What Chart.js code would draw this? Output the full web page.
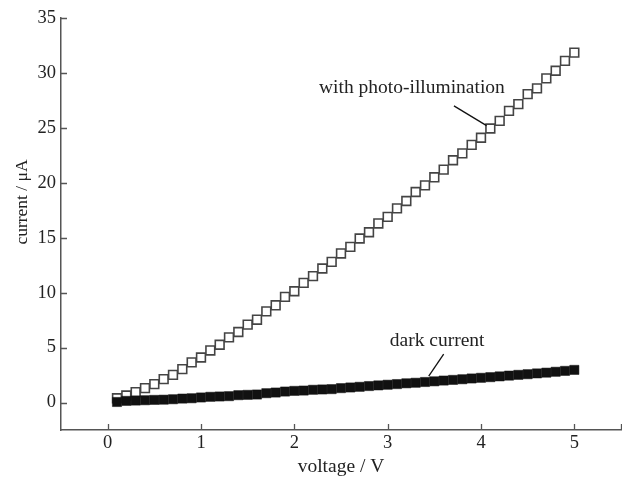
<!DOCTYPE html>
<html>
<head>
<meta charset="utf-8">
<script src="https://cdn.jsdelivr.net/npm/chart.js@4"></script>
<style>
  html, body { margin: 0; padding: 0; background: #fff; }
  #wrap { width: 622px; height: 477px; }
</style>
</head>
<body>
<div id="wrap"><canvas id="chart" width="622" height="477"></canvas></div>
<script>
// voltage (V) for both sweeps
const voltage = [
  0.1, 0.2, 0.3, 0.4, 0.5, 0.6, 0.7, 0.8, 0.9, 1.0,
  1.1, 1.2, 1.3, 1.4, 1.5, 1.6, 1.7, 1.8, 1.9, 2.0,
  2.1, 2.2, 2.3, 2.4, 2.5, 2.6, 2.7, 2.8, 2.9, 3.0,
  3.1, 3.2, 3.3, 3.4, 3.5, 3.6, 3.7, 3.8, 3.9, 4.0,
  4.1, 4.2, 4.3, 4.4, 4.5, 4.6, 4.7, 4.8, 4.9, 5.0
]
// current (uA) under illumination
const photoCurrent = [
  0.39, 0.64, 0.94, 1.31, 1.67, 2.13, 2.52, 3.04, 3.65, 4.10,
  4.74, 5.26, 5.93, 6.42, 7.09, 7.54, 8.30, 8.85, 9.62, 10.13,
  10.89, 11.50, 12.20, 12.80, 13.57, 14.17, 14.93, 15.50, 16.30, 16.90,
  17.67, 18.34, 19.16, 19.77, 20.50, 21.20, 22.05, 22.68, 23.45, 24.10,
  24.94, 25.64, 26.55, 27.16, 28.07, 28.60, 29.50, 30.20, 31.10, 31.85
]
// dark current (uA)
const darkCurrent = [
  0.05, 0.15, 0.18, 0.21, 0.24, 0.26, 0.30, 0.36, 0.39, 0.46,
  0.52, 0.55, 0.58, 0.67, 0.70, 0.73, 0.85, 0.91, 1.00, 1.06,
  1.09, 1.16, 1.19, 1.22, 1.31, 1.37, 1.43, 1.50, 1.56, 1.62,
  1.68, 1.75, 1.80, 1.87, 1.93, 2.00, 2.06, 2.12, 2.19, 2.25,
  2.31, 2.38, 2.45, 2.52, 2.58, 2.65, 2.72, 2.80, 2.88, 2.97
]
const xTicks = [0, 1, 2, 3, 4, 5]
const yTicks = [0, 5, 10, 15, 20, 25, 30, 35]

// callout labels: text anchor and leader line, in data units
const calloutText = ['with photo-illumination', 'dark current']
const calloutAt = [[3.26, 28.6], [3.53, 5.6]]
const leaderFrom = [[3.71, 27.0], [3.60, 4.4]]
const leaderTo = [[4.06, 25.2], [3.44, 2.4]]

const serif = "'Liberation Serif', 'Times New Roman', serif"
const ink = '#222'

const decorations = {
  id: 'decorations',
  afterDraw(chart) {
    const ctx = chart.ctx
    const xs = chart.scales.x
    const ys = chart.scales.y
    const area = chart.chartArea
    ctx.save()
    // inward tick marks
    ctx.strokeStyle = '#555'
    ctx.lineWidth = 1.3
    ctx.beginPath()
    xTicks.concat([xs.max]).forEach(v => {
      const px = Math.round(xs.getPixelForValue(v)) + 0.5
      ctx.moveTo(px, area.bottom)
      ctx.lineTo(px, area.bottom - 6)
    })
    yTicks.forEach(v => {
      const py = Math.round(ys.getPixelForValue(v)) + 0.5
      ctx.moveTo(area.left, py)
      ctx.lineTo(area.left + 6, py)
    })
    ctx.stroke()

    // callouts
    ctx.strokeStyle = '#111'
    ctx.lineWidth = 1.3
    ctx.fillStyle = ink
    ctx.font = '19.5px ' + serif
    ctx.textAlign = 'center'
    ctx.textBaseline = 'middle'
    calloutText.forEach((t, i) => {
      ctx.fillText(t, xs.getPixelForValue(calloutAt[i][0]), ys.getPixelForValue(calloutAt[i][1]))
      ctx.beginPath()
      ctx.moveTo(xs.getPixelForValue(leaderFrom[i][0]), ys.getPixelForValue(leaderFrom[i][1]))
      ctx.lineTo(xs.getPixelForValue(leaderTo[i][0]), ys.getPixelForValue(leaderTo[i][1]))
      ctx.stroke()
    })

    // y axis title
    ctx.font = '17.5px ' + serif
    ctx.translate(22, (area.top + area.bottom) / 2 - 22)
    ctx.rotate(-Math.PI / 2)
    ctx.fillText('current / \u03bcA', 0, 0)
    ctx.restore()
  }
}

document.addEventListener('DOMContentLoaded', () => {
  let ctx = document.getElementById('chart').getContext('2d')

  new Chart(ctx, {
    type: 'scatter',
    data: {
      datasets: [
        {
          label: 'dark current',
          data: voltage.map((v, i) => ({x: v, y: darkCurrent[i]})),
          pointStyle: 'rect',
          pointRadius: 6.5,
          backgroundColor: '#111',
          borderColor: '#111',
          borderWidth: 0.5
        },
        {
          label: 'with photo-illumination',
          data: voltage.map((v, i) => ({x: v, y: photoCurrent[i]})),
          pointStyle: 'rect',
          pointRadius: 6.2,
          backgroundColor: '#fff',
          borderColor: '#444',
          borderWidth: 1.6
        }
      ]
    },
    options: {
      responsive: false,
      animation: false,
      layout: {autoPadding: false, padding: {top: 18, right: 1, left: 0, bottom: 0}},
      plugins: {
        legend: {display: false},
        tooltip: {enabled: false}
      },
      scales: {
        x: {
          type: 'linear',
          min: -0.5,
          max: 5.5,
          afterBuildTicks: s => { s.ticks = xTicks.map(v => ({value: v})) },
          afterFit: s => { s.height = 47; s.paddingLeft = 0; s.paddingRight = 0 },
          grid: {display: false, drawTicks: false},
          border: {display: true, color: '#555', width: 1.5},
          ticks: {color: ink, font: {family: serif, size: 18.5}, padding: 2, maxRotation: 0},
          title: {display: true, text: 'voltage / V', color: ink,
                  font: {family: serif, size: 19.5, lineHeight: 1}, padding: {top: 0, bottom: 0}}
        },
        y: {
          type: 'linear',
          min: -2.5,
          max: 35,
          afterBuildTicks: s => { s.ticks = yTicks.map(v => ({value: v})) },
          afterFit: s => { s.width = 61; s.paddingTop = 0; s.paddingBottom = 0 },
          grid: {display: false, drawTicks: false},
          border: {display: true, color: '#555', width: 1.5},
          ticks: {color: ink, font: {family: serif, size: 18.5}, padding: 5}
        }
      }
    },
    plugins: [decorations]
  })
})
</script>
</body>
</html>
